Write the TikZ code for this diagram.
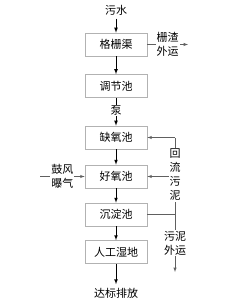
\documentclass[tikz,border=0pt]{standalone}
\usepackage{fontspec}
\newfontfamily\cjk{Noto Sans CJK SC}
\usetikzlibrary{positioning}
\begin{document}
\begin{tikzpicture}[x=1pt,y=-1pt,line width=.7pt,>=latex,
  font=\cjk\fontsize{11}{13.5}\selectfont,
  unit/.style={draw=gray!60,minimum width=62pt,minimum height=23pt,inner sep=0pt},
  flow/.style={->},
  side/.style={->,draw=gray!75!black,line width=.5pt},
  lbl/.style={fill=white,inner sep=1pt,align=center}]
  \useasboundingbox (0,0) rectangle (228,307);
  % main line
  \node (raw) at (116,10) {污水};
  \node[unit] (screen) at (116,44.5) {格栅渠};
  \node[unit] (equal) at (116,86) {调节池};
  \node[unit] (anoxic) at (116,137.5) {缺氧池};
  \node[unit] (oxic) at (116,176.5) {好氧池};
  \node[unit] (settle) at (116,214.5) {沉淀池};
  \node[unit] (wetland) at (116,252) {人工湿地};
  \node (out) at (116,293) {达标排放};
  \draw[flow] (raw) -- (screen);
  \draw[flow] (screen) -- (equal);
  \draw[flow] (equal) -- (anoxic) node[lbl,pos=.45] {泵};
  \draw[flow] (anoxic) -- (oxic);
  \draw[flow] (oxic) -- (settle);
  \draw[flow] (settle) -- (wetland);
  \draw[flow] (wetland) -- (out);
  % side streams
  \coordinate (slagend) at (188,44.5);
  \draw[side] (screen) -- (slagend) node[lbl,midway] {栅渣\\外运};
  \coordinate (air) at (40,176.5);
  \draw[side] (air) -- (oxic) node[lbl,midway] {鼓风\\曝气};
  \coordinate (ret) at (175,214.5);
  \coordinate (rettop) at (175,137.5);
  \coordinate (retmid) at (175,176.5);
  \coordinate (sludgeend) at (175,272);
  \draw[side,-] (settle) -- (ret) -- (rettop);
  \draw[side] (rettop) -- (anoxic);
  \draw[side] (retmid) -- (oxic);
  \node[lbl,font=\cjk\fontsize{11}{14}\selectfont] (retlbl) at (175,175) {回\\流\\污\\泥};
  \draw[side] (ret) -- (sludgeend) node[lbl,midway] {污泥\\外运};
\end{tikzpicture}
\end{document}
